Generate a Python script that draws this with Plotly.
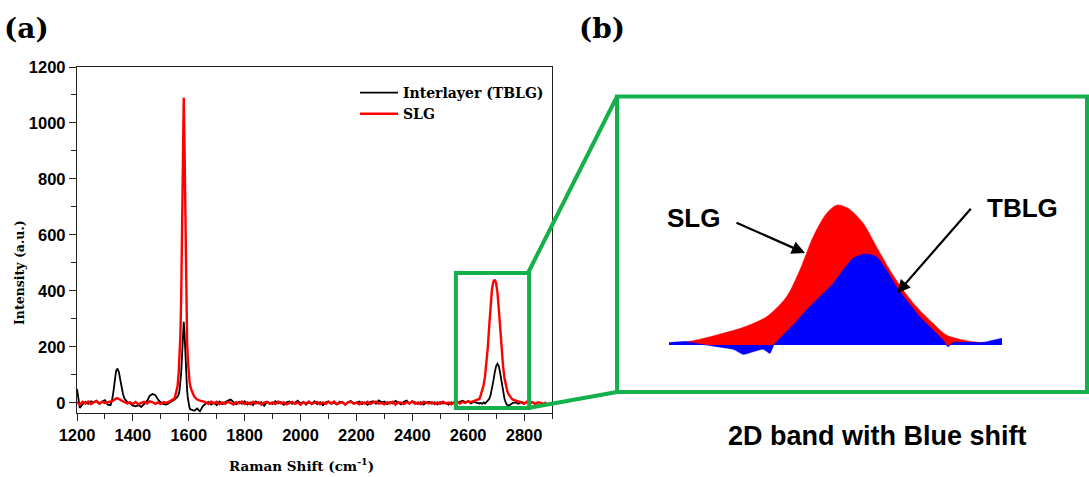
import plotly.graph_objects as go

# ---------------- Panel (a) data: Raman spectra ----------------
# sampling grid of Raman shift (cm^-1), by section
shift_a = list(range(1200, 1311, 10))          # 12
shift_b = list(range(1320, 1381, 5))           # 13  (D band)
shift_c = list(range(1390, 1561, 10))          # 18
shift_d = list(range(1564, 1607, 3))           # 15  (G band)
shift_e = list(range(1610, 2641, 10))          # 104
shift_f = list(range(2645, 2761, 5))           # 24  (2D band)
shift_g = list(range(2770, 2881, 10))          # 12

tblg_a = [50, -18, -5, 4, -3, 6, 2, 8, -4, 5, 10, -6]
tblg_b = [-8, 8, 38, 85, 115, 123, 110, 82, 52, 30, 16, 8, 3]
tblg_c = [-2, -10, -12, -8, -14, -5, 5, 25, 32, 28, 12, 2, -4, -6, 0, 4, 12, 22]
tblg_d = [30, 45, 70, 110, 170, 250, 290, 245, 160, 90, 45, 15, -5, -18, -24]
tblg_e = [-24, -28, -20, -30, -12, -3, 4, -6, 2, -8,
          5, -4, 3, 8, 12, 2, -5, 4, -3, 6,
          -6, 2, -8, 5, -2, 3, -10, 4, 0, -4,
          6, -2, 3, -7, 2, 5, -3, 1, 8, -2,
          4, -6, 2, -3, 6, -4, 3, -8, 2, 5,
          -3, 1, -5, 4, 2, -6, 3, 7, -2, 0,
          5, -4, 2, -7, 3, 6, -3, 9, 2, 5,
          -4, 3, -2, 7, 1, -5, 4, 8, -3, 6,
          2, -4, 3, -6, 1, 4, -3, 2, -5, 3,
          -2, 0, -6, 2, -3, 1, 4, 8, 3, 6,
          -2, 4, 1, -2]
tblg_f = [0, -3, 2, -2, 3, 7, 14, 27, 48, 78, 108, 132, 140, 131, 104, 70,
          40, 15, 0, -8, -10, -6, -2, 0]
tblg_g = [2, -3, 3, 0, None, None, None, None, None, None, None, None]

slg_a = [3, -6, 4, -2, 5, -4, 2, 6, -3, 4, 0, 2]
slg_b = [3, 6, 9, 13, 16, 17, 15, 11, 8, 5, 2, 0, -2]
slg_c = [2, -4, 3, -5, 0, 4, -2, 6, 3, -3, 2, -4, 3, 0, 5, 10, 18, 60]
slg_d = [110, 160, 240, 380, 610, 920, 1090, 900, 590, 360, 220, 150, 100, 75, 58]
slg_e = [45, 22, 12, 8, 5, 3, -4, 5, -2, 4,
         -5, 2, -3, 4, 0, -6, 3, -2, 5, -4,
         2, -5, 4, -2, 3, -6, 1, 4, -3, 2,
         -4, 5, -2, 3, -5, 0, 4, -3, 2, -6,
         3, -2, 5, -4, 1, 3, -5, 2, -3, 4,
         -2, 5, -4, 0, 3, -6, 2, 4, -3, 1,
         -5, 3, -2, 4, -4, 2, 5, -3, 0, -5,
         3, -2, 4, -6, 2, 1, -4, 3, -2, 5,
         -3, 2, -5, 4, 0, -2, 3, -4, 2, -3,
         4, -2, 1, -5, 3, 5, -2, 4, 0, 6,
         3, 7, 9, 14]
slg_f = [28, 42, 62, 92, 135, 195, 270, 345, 405, 433, 440, 428, 392, 330, 258,
         188, 130, 88, 60, 42, 30, 22, 16, 12]
slg_g = [9, 5, 2, -3, 4, -2, 3, -4, 2, 0, -3, 2]

raman_shift = shift_a + shift_b + shift_c + shift_d + shift_e + shift_f + shift_g
tblg_intensity = tblg_a + tblg_b + tblg_c + tblg_d + tblg_e + tblg_f + tblg_g
slg_intensity = slg_a + slg_b + slg_c + slg_d + slg_e + slg_f + slg_g

# ---------------- Panel (b) data: 2D band close-up (normalised) ----------------
inset_shift_slg = [2600, 2614.6, 2628.6, 2644.6, 2658.6, 2670.6, 2678.6, 2686.6,
                   2694.6, 2701, 2707.6, 2716.6, 2724.6, 2732.6, 2740.6, 2748.6,
                   2758.6, 2766.6, 2778.6, 2788.6, 2800]
inset_slg = [0.012, 0.031, 0.071, 0.126, 0.202, 0.345, 0.536, 0.774,
             0.940, 1.0, 0.976, 0.869, 0.702, 0.536, 0.393, 0.274,
             0.155, 0.071, 0.031, 0.017, 0.012]
inset_shift_tblg = [2600, 2610.6, 2618.6, 2628.6, 2638.6, 2644.6, 2650.6, 2656.6,
                    2660.6, 2663, 2666.6, 2674.6, 2682.6, 2690.6, 2698.6, 2704.6,
                    2710.6, 2717.6, 2724.6, 2730.6, 2736.6, 2742.6, 2750.6, 2758.6,
                    2764.6, 2767.6, 2770.6, 2778.6, 2788.6, 2796.6, 2800]
inset_tblg = [0.017, 0.024, 0.007, -0.012, -0.031, -0.067, -0.048, -0.031,
              -0.060, 0.0, 0.048, 0.143, 0.25, 0.345, 0.44, 0.536,
              0.619, 0.65, 0.631, 0.536, 0.417, 0.321, 0.202, 0.107,
              0.036, -0.012, 0.017, 0.019, 0.019, 0.040, 0.048]

# ---------------- layout helpers ----------------
W, H = 1089, 477


def px(x):
    return x / W


def py(y):
    return 1 - y / H


GREEN = '#14b04c'
SANS = 'Liberation Sans, Arial, sans-serif'
SERIF = 'DejaVu Serif, serif'

fig = go.Figure()
fig.add_trace(go.Scatter(x=raman_shift, y=tblg_intensity, mode='lines',
                         name='Interlayer (TBLG)', connectgaps=False,
                         line=dict(color='#000000', width=1.8),
                         xaxis='x', yaxis='y'))
fig.add_trace(go.Scatter(x=raman_shift, y=slg_intensity, mode='lines',
                         name='SLG', line=dict(color='#ff0000', width=2.4),
                         xaxis='x', yaxis='y'))
fig.add_trace(go.Scatter(x=inset_shift_slg, y=inset_slg, mode='lines',
                         fill='tozeroy', fillcolor='#ff0000',
                         line=dict(color='#ff0000', width=0.5, shape='spline', smoothing=0.8),
                         xaxis='x2', yaxis='y2', showlegend=False))
fig.add_trace(go.Scatter(x=inset_shift_tblg, y=inset_tblg, mode='lines',
                         fill='tozeroy', fillcolor='#0000ff',
                         line=dict(color='#0000ff', width=0.5, shape='spline', smoothing=0.6),
                         xaxis='x2', yaxis='y2', showlegend=False))

tickfont = dict(family=SANS, size=16.5, color='#000000', weight='bold')

fig.update_layout(
    width=W, height=H,
    margin=dict(l=0, r=0, t=0, b=0, autoexpand=False),
    paper_bgcolor='white', plot_bgcolor='white',
    xaxis=dict(domain=[px(77), px(552)], range=[1200, 2900], anchor='y',
               automargin=False,
               showline=True, mirror=True, linecolor='#222222', linewidth=1.3,
               ticks='outside', ticklen=7, tickwidth=1.3, tickcolor='#222222',
               tick0=1200, dtick=200, tickfont=tickfont,
               minor=dict(dtick=100, ticks='outside', ticklen=5, tickwidth=1.3,
                          tickcolor='#222222', showgrid=False),
               showgrid=False, zeroline=False),
    yaxis=dict(domain=[py(413), py(67)], range=[-36, 1200], anchor='x',
               automargin=False,
               showline=True, mirror=True, linecolor='#222222', linewidth=1.3,
               ticks='outside', ticklen=7, tickwidth=1.3, tickcolor='#222222',
               tick0=0, dtick=200, tickfont=tickfont,
               minor=dict(dtick=100, ticks='outside', ticklen=5, tickwidth=1.3,
                          tickcolor='#222222', showgrid=False),
               showgrid=False, zeroline=False),
    xaxis2=dict(domain=[px(669), px(1002)], range=[2600, 2800], anchor='y2',
                visible=False, fixedrange=True, automargin=False),
    yaxis2=dict(domain=[py(380), py(200)], range=[-0.25, 1.0357], anchor='x2',
                visible=False, fixedrange=True, automargin=False),
    legend=dict(x=px(355), y=py(77), xanchor='left', yanchor='top',
                bgcolor='rgba(0,0,0,0)', itemwidth=38, tracegroupgap=0,
                font=dict(family=SERIF, size=14, color='#000000', weight='bold')),
    showlegend=True,
)

# green zoom boxes and connectors
fig.add_shape(type='rect', xref='x', yref='y', x0=2556, x1=2818, y0=-18, y1=464,
              line=dict(color=GREEN, width=4))
fig.add_shape(type='rect', xref='paper', yref='paper', x0=px(617), x1=px(1087),
              y0=py(392), y1=py(96.5), line=dict(color=GREEN, width=4))
fig.add_shape(type='line', xref='paper', yref='paper', x0=px(528), y0=py(273),
              x1=px(617), y1=py(96.5), line=dict(color=GREEN, width=4))
fig.add_shape(type='line', xref='paper', yref='paper', x0=px(528), y0=py(408),
              x1=px(617), y1=py(392), line=dict(color=GREEN, width=4))


def label(text, x, y, family, size, angle=0):
    return dict(text=text, x=px(x), y=py(y), xref='paper', yref='paper',
                xanchor='center', yanchor='middle', textangle=angle,
                showarrow=False,
                font=dict(family=family, size=size, color='#000000', weight='bold'))


ann = [
    label('(a)', 26, 29, SERIF, 28),
    label('(b)', 602, 29, SERIF, 28),
    label('Intensity (a.u.)', 19, 273, SERIF, 12.5, -90),
    label('Raman Shift (cm<sup>-1</sup>)', 301, 465, SERIF, 13.5),
    label('SLG', 693, 218, SANS, 26),
    label('TBLG', 1022, 208, SANS, 26),
    label('2D band with Blue shift', 877, 436, SANS, 27),
]
# arrows pointing to the curves
ann.append(dict(text='', x=2681.7, y=0.657, xref='x2', yref='y2', showarrow=True,
                ax=-70, ay=-31, arrowhead=2, arrowsize=1.2, arrowwidth=2.2,
                arrowcolor='#000000'))
ann.append(dict(text='', x=2737, y=0.37, xref='x2', yref='y2', showarrow=True,
                ax=75, ay=-86, arrowhead=2, arrowsize=1.2, arrowwidth=2.2,
                arrowcolor='#000000'))
fig.update_layout(annotations=ann)

fig.write_html('out.html')
